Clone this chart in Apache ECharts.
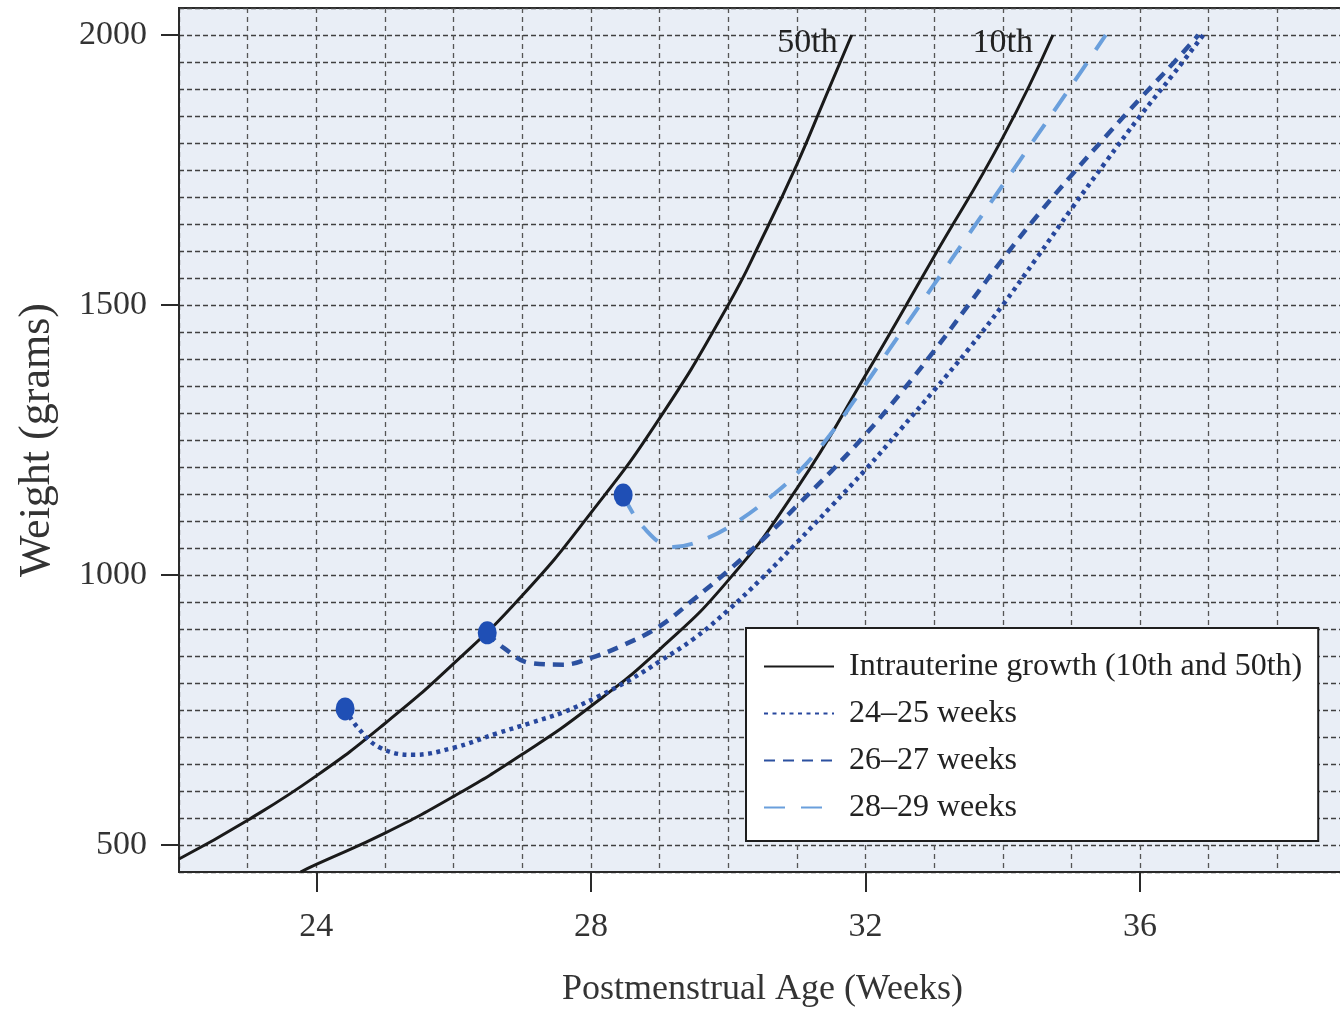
<!DOCTYPE html>
<html>
<head>
<meta charset="utf-8">
<script src="https://cdn.jsdelivr.net/npm/echarts@6/dist/echarts.min.js"></script>
<style>
html,body{margin:0;padding:0;background:#fff;}
#chart{width:1340px;height:1011px;}
</style>
</head>
<body>
<div id="chart"></div>
<script>
// ---- data (postmenstrual age in weeks, weight in grams) ----
const xTickLabels = [24, 28, 32, 36];
const yTickLabels = [500, 1000, 1500, 2000];

const p50 = [[22,474],[23,546],[24,628],[25,725],[26,836],[27,962],[28,1115],[29,1290],[30,1500],[30.5,1625],[31,1760],[31.4,1880],[31.8,2000]];
const p10 = [[23.77,450],[24,464],[25,522],[26,590],[27,668],[28,757],[29,862],[30,990],[31,1160],[32,1370],[33,1590],[34,1810],[34.73,2000]];

const wk2425 = [[24.42,752],[24.6,718],[24.93,680],[25.41,667],[26,680],[26.64,707],[27.12,726],[27.6,746],[28.09,774],[28.57,806],[29,840],[29.5,882],[30,935],[30.5,995],[31,1060],[31.5,1127],[32,1195],[32.5,1268],[33,1342],[33.5,1418],[34,1500],[34.5,1588],[35,1678],[35.5,1765],[36,1850],[36.5,1930],[36.92,2000]];
const wk2627 = [[26.49,893],[26.73,865],[27.12,837],[27.6,834],[27.99,846],[28.47,870],[29,905],[29.5,955],[30,1008],[30.5,1065],[31,1128],[31.5,1192],[32,1260],[32.5,1335],[33,1415],[33.5,1500],[34,1585],[34.5,1665],[35,1740],[35.5,1812],[36,1882],[36.5,1950],[36.85,2000]];
const wk2829 = [[28.47,1148],[28.76,1089],[29.2,1052],[29.69,1068],[30.17,1102],[30.65,1148],[31.05,1194],[31.48,1259],[31.82,1320],[32.21,1392],[32.5,1446],[33,1538],[33.5,1630],[34,1722],[34.5,1814],[35,1906],[35.5,2000]];

const names = ['Intrauterine growth (10th and 50th)', '24\u201325 weeks', '26\u201327 weeks', '28\u201329 weeks'];
const curveLabels = ['50th', '10th'];

// ---- chart ----
const serif = '"Liberation Serif", "DejaVu Serif", serif';
const chart = echarts.init(document.getElementById('chart'));

const gridLineH = { show: true, lineStyle: { color: '#404040', width: 1.4, type: [5, 3] } };
const gridLineV = { show: true, lineStyle: { color: '#555555', width: 1.3, type: [5, 4] } };
const endLabel = (text, dx) => ({ show: true, formatter: text, align: 'right', verticalAlign: 'middle',
  distance: 0, offset: [dx, 8], fontFamily: serif, fontSize: 34, color: '#222' });

const axisLineStyle = { show: true, onZero: false, lineStyle: { color: '#2a2a2a', width: 2 } };

chart.setOption({
  animation: false,
  backgroundColor: '#ffffff',
  grid: { left: 179, right: -6, top: 8, bottom: 139, show: true, outerBoundsMode: 'none', containLabel: false,
          backgroundColor: '#e9eef6', borderColor: '#2a2a2a', borderWidth: 2 },
  xAxis: [{
    type: 'value', min: 22, max: 39, interval: 1, position: 'bottom',
    name: 'Postmenstrual Age (Weeks)', nameLocation: 'middle', nameGap: 100,
    nameTextStyle: { fontFamily: serif, fontSize: 36, color: '#333' },
    axisLine: axisLineStyle,
    axisTick: { show: true, inside: false, length: 20, customValues: xTickLabels, lineStyle: { color: '#2a2a2a', width: 2 } },
    axisLabel: { show: true, customValues: xTickLabels, margin: 38, fontFamily: serif, fontSize: 34, color: '#333',
                 formatter: (v) => String(v) },
    splitLine: { show: false }
  }, {
    type: 'value', min: 22, max: 39, interval: 1, position: 'bottom',
    axisLine: { show: false }, axisTick: { show: false }, axisLabel: { show: false },
    splitLine: gridLineV
  }],
  yAxis: [{
    type: 'value', min: 450, max: 2050, interval: 50, position: 'left',
    name: 'Weight (grams)', nameLocation: 'middle', nameGap: 120, nameRotate: 90,
    nameTextStyle: { fontFamily: serif, fontSize: 44, color: '#333' },
    axisLine: axisLineStyle,
    axisTick: { show: true, inside: false, length: 18, customValues: yTickLabels, lineStyle: { color: '#2a2a2a', width: 2 } },
    axisLabel: { show: true, customValues: yTickLabels, margin: 32, fontFamily: serif, fontSize: 34, color: '#333',
                 formatter: (v) => String(v) },
    splitLine: { show: false }
  }, {
    type: 'value', min: 450, max: 2050, interval: 50, position: 'left',
    axisLine: { show: false }, axisTick: { show: false }, axisLabel: { show: false },
    splitLine: gridLineH
  }],
  legend: {
    orient: 'vertical', left: 746, top: 628,
    data: names, selectedMode: false,
    backgroundColor: '#ffffff', borderColor: '#1e1e1e', borderWidth: 2, borderRadius: 0,
    padding: [20, 16, 15, 17], itemGap: 10, itemWidth: 70, itemHeight: 14,
    itemStyle: { opacity: 0 },
    textStyle: { fontFamily: serif, fontSize: 32, color: '#222', lineHeight: 37, padding: [0, 0, 0, 10] }
  },
  series: [
    { name: names[0], type: 'line', data: p50, symbol: 'none', smooth: 0.5,
      lineStyle: { color: '#1a1a1a', width: 3 }, itemStyle: { color: '#1a1a1a' }, endLabel: endLabel(curveLabels[0], -14), z: 3 },
    { name: names[0], type: 'line', data: p10, symbol: 'none', smooth: 0.5,
      lineStyle: { color: '#1a1a1a', width: 3 }, itemStyle: { color: '#1a1a1a' }, endLabel: endLabel(curveLabels[1], -20), z: 3 },
    { name: names[1], type: 'line', data: wk2425, symbol: 'none', smooth: 0.4,
      lineStyle: { color: '#27479d', width: 4.5, type: [4, 4.5] }, itemStyle: { color: '#27479d' }, z: 4 },
    { name: names[2], type: 'line', data: wk2627, symbol: 'none', smooth: 0.4,
      lineStyle: { color: '#2c51a0', width: 4.5, type: [11, 8] }, itemStyle: { color: '#2c51a0' }, z: 4 },
    { name: names[3], type: 'line', data: wk2829, symbol: 'none', smooth: 0.4,
      lineStyle: { color: '#6a9fdc', width: 4, type: [21, 16] }, itemStyle: { color: '#6a9fdc' }, z: 4 },
    { name: 'start', type: 'scatter', data: [wk2425[0], wk2627[0], wk2829[0]],
      symbol: 'circle', symbolSize: [19, 23], itemStyle: { color: '#1f4fb5', opacity: 1 }, z: 6 }
  ]
});
</script>
</body>
</html>
